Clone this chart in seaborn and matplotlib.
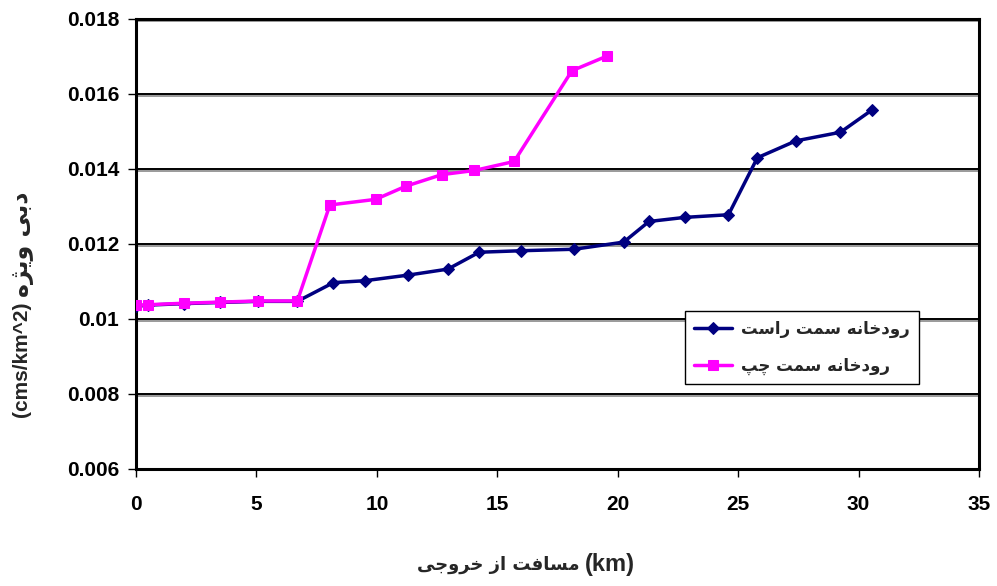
import numpy as np
import pandas as pd
import seaborn as sns
import matplotlib.pyplot as plt
import matplotlib.patheffects as pe

# distance from outlet (km) and specific discharge (cms/km^2)
x_right = [0, 0.5, 2.0, 3.5, 5.05, 6.7, 8.2, 9.5, 11.3, 12.95, 14.25, 16.0,
           18.2, 20.25, 21.3, 22.8, 24.6, 25.8, 27.4, 29.25, 30.55]
y_right = [0.01035, 0.01037, 0.01041, 0.01044, 0.01047, 0.01047, 0.01097,
           0.01102, 0.01117, 0.01133, 0.01178, 0.01182, 0.01186, 0.01205,
           0.0126, 0.01271, 0.01278, 0.0143, 0.01475, 0.01498, 0.01557]
x_left = [0, 0.5, 2.0, 3.5, 5.05, 6.7, 8.05, 9.95, 11.2, 12.7, 14.05, 15.7,
          18.1, 19.55]
y_left = [0.01036, 0.01038, 0.01042, 0.01045, 0.01048, 0.01048, 0.01304,
          0.01319, 0.01354, 0.01385, 0.01396, 0.0142, 0.01662, 0.01701]

x_ticks = [0, 5, 10, 15, 20, 25, 30, 35]
y_ticks = [0.006, 0.008, 0.01, 0.012, 0.014, 0.016, 0.018]
y_tick_labels = ['0.006', '0.008', '0.01', '0.012', '0.014', '0.016', '0.018']

# matplotlib does no arabic shaping, so pick presentation forms by hand
# (isolated, final, initial, medial)
FORMS = {
    'ا': ('\uFE8D', '\uFE8E', None, None),
    'ب': ('\uFE8F', '\uFE90', '\uFE91', '\uFE92'),
    'پ': ('\uFB56', '\uFB57', '\uFB58', '\uFB59'),
    'ت': ('\uFE95', '\uFE96', '\uFE97', '\uFE98'),
    'ج': ('\uFE9D', '\uFE9E', '\uFE9F', '\uFEA0'),
    'چ': ('\uFB7A', '\uFB7B', '\uFB7C', '\uFB7D'),
    'خ': ('\uFEA5', '\uFEA6', '\uFEA7', '\uFEA8'),
    'د': ('\uFEA9', '\uFEAA', None, None),
    'ر': ('\uFEAD', '\uFEAE', None, None),
    'ز': ('\uFEAF', '\uFEB0', None, None),
    'ژ': ('\uFB8A', '\uFB8B', None, None),
    'س': ('\uFEB1', '\uFEB2', '\uFEB3', '\uFEB4'),
    'ف': ('\uFED1', '\uFED2', '\uFED3', '\uFED4'),
    'م': ('\uFEE1', '\uFEE2', '\uFEE3', '\uFEE4'),
    'ن': ('\uFEE5', '\uFEE6', '\uFEE7', '\uFEE8'),
    'ه': ('\uFEE9', '\uFEEA', '\uFEEB', '\uFEEC'),
    'و': ('\uFEED', '\uFEEE', None, None),
    'ی': ('\uFBFC', '\uFBFD', '\uFBFE', '\uFBFF'),
}


def rtl(text):
    out = []
    for i, ch in enumerate(text):
        if ch not in FORMS:
            out.append(ch)
            continue
        iso, fin, ini, med = FORMS[ch]
        prev = text[i - 1] if i > 0 else ''
        nxt = text[i + 1] if i + 1 < len(text) else ''
        joins_prev = prev in FORMS and FORMS[prev][2] is not None
        joins_next = ini is not None and nxt in FORMS
        if joins_prev and joins_next:
            out.append(med)
        elif joins_prev:
            out.append(fin)
        elif joins_next:
            out.append(ini)
        else:
            out.append(iso)
    return ''.join(reversed(out))


sns.set_style('white')
plt.rcParams['font.family'] = ['Liberation Sans', 'DejaVu Sans']
plt.rcParams['font.weight'] = 'bold'

df_right = pd.DataFrame({'x': x_right, 'y': y_right})
df_left = pd.DataFrame({'x': x_left, 'y': y_left})

fig = plt.figure(figsize=(9.97, 5.86), dpi=100)
ax = fig.add_axes([0.1364, 0.1997, 0.8455, 0.7679])

shadow = [pe.SimpleLineShadow(offset=(0, -1.2), shadow_color='gray', alpha=0.8), pe.Normal()]
for yv in y_ticks:
    ax.axhline(yv, color='black', lw=1.4, zorder=1, path_effects=shadow)

sns.lineplot(data=df_right, x='x', y='y', ax=ax, color='#000080', lw=2.5,
             marker='D', markersize=6, markeredgecolor='#000080',
             estimator=None, sort=False, zorder=3, label=rtl('رودخانه سمت راست'))
sns.lineplot(data=df_left, x='x', y='y', ax=ax, color='#FF00FF', lw=2.5,
             marker='s', markersize=7, markeredgecolor='#FF00FF',
             estimator=None, sort=False, zorder=4, label=rtl('رودخانه سمت چپ'))

ax.set_xlim(0, 35)
ax.set_ylim(0.006, 0.018)
ax.set_xticks(x_ticks)
ax.set_xticklabels([str(v) for v in x_ticks], fontsize=15, fontweight='bold')
ax.set_yticks(y_ticks)
ax.set_yticklabels(y_tick_labels, fontsize=15, fontweight='bold')
ax.tick_params(axis='both', direction='out', length=6, width=1, colors='black',
               bottom=True, left=True)
ax.tick_params(axis='x', pad=13)
ax.tick_params(axis='y', pad=6)
for s in ax.spines.values():
    s.set_visible(True)
    s.set_color('black')
    s.set_linewidth(2.2)

ax.set_xlabel('')
ax.set_ylabel('')

# axis titles: latin and persian parts placed side by side
fig.text(585 / 997, 1 - 565 / 586, '(km)', ha='left', va='center',
         fontsize=17, fontweight='bold')
fig.text(580 / 997, 1 - 565 / 586, rtl('مسافت از خروجی'), ha='right', va='center',
         fontsize=13, fontweight='bold', family='DejaVu Sans')
fig.text(22 / 997, 1 - 417 / 586, '(cms/km^2)', ha='center', va='bottom',
         rotation=90, fontsize=15, fontweight='bold')
fig.text(22 / 997, 1 - 297 / 586, rtl('دبی ویژه'), ha='center', va='bottom',
         rotation=90, fontsize=17, fontweight='bold', family='DejaVu Sans')

leg = ax.legend(loc='upper left', bbox_to_anchor=(0.651, 0.351), frameon=True,
                fancybox=False, edgecolor='black', framealpha=1,
                prop={'size': 12, 'weight': 'bold', 'family': 'DejaVu Sans'},
                handlelength=2.3, handletextpad=0.5, borderaxespad=0,
                borderpad=0.55, labelspacing=1.1)
leg.get_frame().set_linewidth(1.0)

fig.savefig('out.png', dpi=100)
